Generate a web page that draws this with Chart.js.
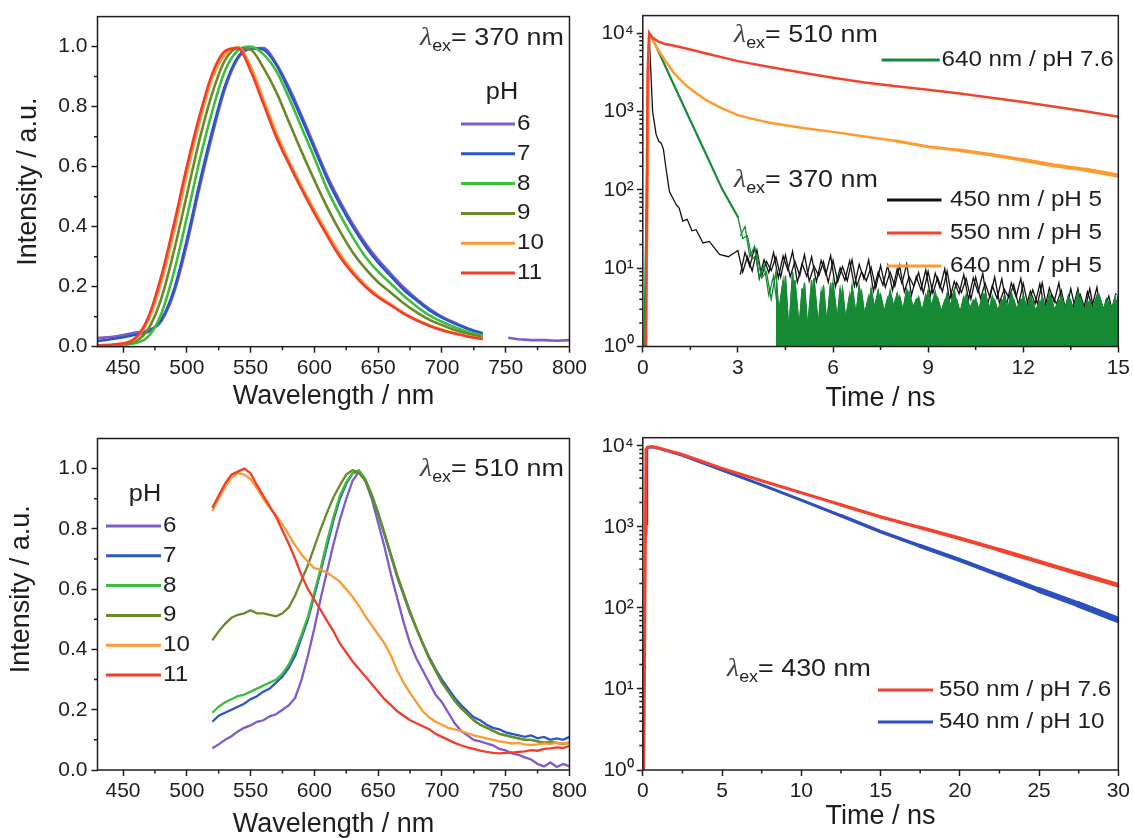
<!DOCTYPE html>
<html>
<head>
<meta charset="utf-8">
<script src="https://cdn.jsdelivr.net/npm/chart.js@4.4.0/dist/chart.umd.min.js"></script>
<style>
  html, body { margin: 0; padding: 0; background: #fff; width: 1133px; height: 838px; overflow: hidden; }
  .panel { position: absolute; }
</style>
</head>
<body>
<div class="panel" style="left:0;top:0;width:590px;height:419px"><canvas id="c-tl"></canvas></div>
<div class="panel" style="left:576px;top:0;width:557px;height:419px"><canvas id="c-tr"></canvas></div>
<div class="panel" style="left:0;top:419px;width:590px;height:440px"><canvas id="c-bl"></canvas></div>
<div class="panel" style="left:576px;top:419px;width:557px;height:440px"><canvas id="c-br"></canvas></div>
<script>
// ===== ticks =====
const wlTicks = [450, 500, 550, 600, 650, 700, 750, 800];
const intTicks = [0, 0.2, 0.4, 0.6, 0.8, 1.0];
const intLabels = ['0.0', '0.2', '0.4', '0.6', '0.8', '1.0'];
const t15Ticks = [0, 3, 6, 9, 12, 15];
const t30Ticks = [0, 5, 10, 15, 20, 25, 30];
const logTicks = [1, 10, 100, 1000, 10000];
const logLabels = ['10\u2070', '10\u00B9', '10\u00B2', '10\u00B3', '10\u2074'];
const phLabels = ['6', '7', '8', '9', '10', '11'];

// ===== top left: emission, λex 370 nm =====
const wlTop = [430,445,460,470,480,490,500,510,520,530,540,550,560,570,580,590,600,610,620,630,640,650,660,670,680,690,700,710,720,732];
const top6  = [0.028,0.035,0.047,0.055,0.085,0.18,0.34,0.53,0.705,0.86,0.96,0.993,0.995,0.945,0.865,0.77,0.67,0.57,0.485,0.41,0.345,0.29,0.243,0.198,0.16,0.127,0.10,0.08,0.062,0.045];
const top7  = [0.018,0.028,0.04,0.05,0.09,0.19,0.355,0.545,0.72,0.87,0.965,0.995,0.99,0.94,0.855,0.76,0.66,0.56,0.475,0.40,0.335,0.28,0.235,0.19,0.155,0.122,0.097,0.077,0.06,0.043];
const top8  = [0.005,0.006,0.012,0.035,0.11,0.25,0.43,0.62,0.785,0.92,0.987,1.0,0.975,0.92,0.83,0.73,0.63,0.525,0.44,0.365,0.30,0.25,0.21,0.17,0.135,0.105,0.083,0.065,0.05,0.037];
const top9  = [0.003,0.006,0.018,0.06,0.16,0.32,0.505,0.69,0.845,0.955,0.995,0.99,0.93,0.85,0.75,0.65,0.555,0.465,0.385,0.315,0.26,0.215,0.18,0.145,0.115,0.09,0.072,0.056,0.044,0.032];
const top10 = [0.004,0.008,0.027,0.09,0.215,0.385,0.575,0.75,0.895,0.975,0.998,0.935,0.825,0.715,0.62,0.535,0.455,0.38,0.31,0.253,0.206,0.17,0.141,0.113,0.09,0.072,0.057,0.045,0.035,0.026];
const top11 = [0.004,0.008,0.03,0.10,0.235,0.41,0.60,0.77,0.91,0.985,0.995,0.92,0.81,0.70,0.61,0.525,0.445,0.37,0.30,0.245,0.20,0.165,0.138,0.11,0.088,0.07,0.055,0.044,0.034,0.025];
const wlTopTail = [752, 760, 770, 780, 790, 800];
const top6Tail = [0.03, 0.025, 0.022, 0.022, 0.02, 0.022];

// ===== bottom left: emission, λex 510 nm =====
const wlBot = [520,525,530,535,540,545,550,555,560,565,570,575,580,585,590,595,600,605,610,615,620,625,630,635,640,645,650,655,660,665,670,675,680,685,690,695,700,705,710,715,720,725,730,735,740,745,750,755,760,765,770,775,780,785,790,795,800];
const bot6  = [0.072,0.085,0.10,0.112,0.128,0.14,0.148,0.16,0.165,0.178,0.185,0.20,0.215,0.24,0.30,0.38,0.47,0.57,0.66,0.75,0.83,0.90,0.96,0.99,0.96,0.90,0.82,0.74,0.65,0.57,0.49,0.42,0.37,0.33,0.29,0.25,0.225,0.19,0.155,0.13,0.115,0.10,0.095,0.088,0.082,0.07,0.065,0.055,0.05,0.042,0.035,0.02,0.012,0.025,0.01,0.02,0.012];
const bot7  = [0.16,0.18,0.19,0.20,0.21,0.22,0.235,0.245,0.26,0.27,0.29,0.31,0.34,0.38,0.44,0.50,0.58,0.66,0.745,0.83,0.90,0.95,0.985,0.99,0.96,0.91,0.85,0.78,0.71,0.64,0.58,0.52,0.47,0.42,0.375,0.335,0.30,0.27,0.24,0.215,0.195,0.175,0.165,0.15,0.14,0.135,0.125,0.12,0.115,0.11,0.115,0.105,0.11,0.10,0.105,0.10,0.11];
const bot8  = [0.19,0.21,0.225,0.235,0.245,0.25,0.26,0.27,0.28,0.29,0.30,0.32,0.35,0.395,0.45,0.51,0.59,0.67,0.76,0.84,0.91,0.955,0.985,0.995,0.965,0.915,0.855,0.785,0.715,0.645,0.585,0.525,0.47,0.42,0.37,0.33,0.29,0.26,0.23,0.205,0.185,0.165,0.15,0.14,0.13,0.12,0.115,0.11,0.105,0.10,0.10,0.095,0.09,0.095,0.09,0.088,0.09];
const bot9  = [0.43,0.46,0.485,0.505,0.515,0.52,0.53,0.52,0.52,0.515,0.51,0.52,0.54,0.58,0.63,0.68,0.74,0.80,0.855,0.905,0.945,0.98,0.995,0.985,0.96,0.91,0.85,0.785,0.715,0.645,0.585,0.525,0.47,0.42,0.37,0.33,0.29,0.26,0.23,0.205,0.185,0.165,0.15,0.14,0.13,0.12,0.115,0.11,0.105,0.10,0.10,0.095,0.092,0.09,0.09,0.088,0.09];
const bot10 = [0.86,0.90,0.94,0.97,0.985,0.98,0.965,0.935,0.90,0.87,0.845,0.815,0.78,0.745,0.715,0.69,0.67,0.665,0.655,0.64,0.625,0.60,0.575,0.545,0.51,0.48,0.45,0.42,0.38,0.33,0.29,0.255,0.225,0.195,0.175,0.16,0.15,0.14,0.135,0.13,0.122,0.115,0.11,0.105,0.10,0.095,0.092,0.088,0.09,0.085,0.083,0.085,0.088,0.086,0.09,0.088,0.092];
const bot11 = [0.87,0.91,0.95,0.98,0.99,1.0,0.985,0.945,0.91,0.875,0.84,0.795,0.75,0.70,0.645,0.60,0.565,0.53,0.495,0.46,0.42,0.39,0.36,0.335,0.31,0.285,0.26,0.235,0.215,0.195,0.18,0.165,0.155,0.145,0.135,0.12,0.11,0.10,0.09,0.082,0.075,0.07,0.064,0.06,0.057,0.055,0.057,0.058,0.06,0.062,0.066,0.064,0.07,0.072,0.075,0.073,0.08];

// ===== top right: decays =====
const trTimeRed = [0.1,0.15,0.2,0.3,0.5,0.7,1,1.5,2,3,4,5,6,7,8,9,10,11,12,13,14,15];
const trRed     = [1,3000,10000,8800,7800,7300,6900,6200,5500,4400,3700,3150,2700,2350,2100,1900,1700,1500,1320,1150,1000,860];
const trTimeOrange = [0.1,0.2,0.3,0.4,0.55,0.7,0.85,1,1.2,1.4,1.7,2,2.5,3,3.5,4,5,6,7,8,9,10,11,12,13,14,15];
const trOrange     = [1,10000,8500,7000,5600,4500,3700,3050,2500,2100,1700,1400,1100,900,800,720,620,550,480,420,355,320,280,240,205,180,152];
const trTimeGreen = [0.05,0.2,0.25,0.5,1,1.5,2,2.5];
const trGreen     = [1,10000,9500,5800,2100,770,283,103];
const trTimeBlack = [0.1,0.15,0.2,0.25,0.31,0.42,0.5,0.58,0.65,0.73,0.84,0.95,1.05,1.15,1.26,1.4,1.55,1.68,1.9,2.1,2.42,2.7];
const trBlack     = [1,800,10000,3500,1000,510,420,395,330,190,95,78,65,58,40,42,30,31,21,22,15,14];
// noise tail, read on two interleaved time grids
const trTimeNoiseA = [3,3.15,3.3,3.45,3.6,3.75,3.9,4.05,4.2,4.35,4.5,4.65,4.8,4.95,5.1,5.25,5.4,5.55,5.7,5.85,6,6.15,6.3,6.45,6.6,6.75,6.9,7.05,7.2,7.35,7.5,7.65,7.8,7.95,8.1,8.25,8.4,8.55,8.7,8.85,9,9.15,9.3,9.45,9.6,9.75,9.9,10.05,10.2,10.35,10.5,10.65,10.8,10.95,11.1,11.25,11.4,11.55,11.7,11.85,12,12.15,12.3,12.45,12.6,12.75,12.9,13.05,13.2,13.35,13.5,13.65,13.8,13.95,14.1,14.25,14.4,14.55,14.7,14.85,15];
const trBlackNoiseA = [16.8,8.9,14,9.2,17.1,7.9,12.2,9.3,14,7.7,14.7,7.8,12.2,8.0,14.9,6.8,10.6,8.0,12.1,6.6,12.6,6.7,10.5,6.9,12.8,5.9,9.0,6.9,10.3,5.6,10.8,5.7,8.9,5.9,10.8,5.0,7.8,5.9,8.8,4.8,9.1,4.8,7.6,5.0,9.2,4.2,6.5,4.9,7.4,4.0,7.7,4.1,6.4,4.2,7.7,3.6,5.4,4.2,6.2,3.4,6.4,3.4,5.3,3.5,6.5,2.9,4.6,3.5,5.2,2.8,5.5,2.9,4.6,3.0,5.5,2.5,3.9,3.0,4.4,2.4,4.6];
const trGreenNoiseA = [45,24,26,13,15,7.5,9,4,9,1.2,8,0.8,7,1.5,6.5,0.9,7.5,1.6,6,1.2,6.5,2.0,5.5,1.4,6,2.2,5,1.8,5.5,2.6,4.6,2.4,5.2,2.8,4.4,2.5,5.0,2.9,4.3,2.4,5.2,2.8,4.2,2.5,4.8,2.9,4.0,2.4,4.6,2.8,4.1,2.5,4.8,2.9,3.9,2.4,4.4,2.8,4.0,2.5,4.5,2.8,3.8,2.4,4.3,2.7,3.9,2.4,4.5,2.8,3.8,2.3,4.2,2.7,3.9,2.4,4.5,2.8,3.8,2.5,4.2];
const trTimeNoiseB = [3.075,3.225,3.375,3.525,3.675,3.825,3.975,4.125,4.275,4.425,4.575,4.725,4.875,5.025,5.175,5.325,5.475,5.625,5.775,5.925,6.075,6.225,6.375,6.525,6.675,6.825,6.975,7.125,7.275,7.425,7.575,7.725,7.875,8.025,8.175,8.325,8.475,8.625,8.775,8.925,9.075,9.225,9.375,9.525,9.675,9.825,9.975,10.125,10.275,10.425,10.575,10.725,10.875,11.025,11.175,11.325,11.475,11.625,11.775,11.925,12.075,12.225,12.375,12.525,12.675,12.825,12.975,13.125,13.275,13.425,13.575,13.725,13.875,14.025,14.175,14.325,14.475,14.625,14.775,14.925];
const trBlackNoiseB = [8.3,15.9,10.5,18.4,7.4,12.8,8.8,15.8,7.5,14.3,9.4,16.4,6.6,11.5,7.9,14.0,6.7,12.6,8.3,14.5,5.8,10.1,7.0,12.4,5.9,11.2,7.3,12.8,5.1,8.9,6.1,10.9,5.2,9.8,6.4,11.3,4.5,7.8,5.3,9.5,4.5,8.6,5.6,9.8,3.9,6.8,4.7,8.3,4.0,7.5,4.9,8.6,3.4,6.0,4.1,7.3,3.4,6.5,4.3,7.4,3.0,5.1,3.5,6.3,3.0,5.6,3.7,6.5,2.6,4.5,3.1,5.5,2.6,5.0,3.3,5.7,2.3,4.0,2.7,4.8];
const trGreenNoiseB = [26,34,14,19,7.5,11,4.5,8,2.5,7,1.0,9,0.9,5.5,1.3,7,1.0,5,1.5,6.5,1.3,5.5,2.0,4.6,1.6,6,2.4,4.4,2.7,5.2,2.4,4.2,2.9,4.8,2.5,5.4,2.8,4.0,2.4,4.6,2.9,5.0,2.5,3.9,2.9,5.2,2.4,4.3,2.8,3.9,2.6,4.8,2.4,4.4,2.8,3.9,2.5,4.9,2.9,4.0,2.4,4.5,2.8,3.8,2.5,4.8,2.9,3.9,2.4,4.4,2.8,4.9,2.5,3.8,2.9,4.5,2.4,4.0,2.8,4.7];

// ===== bottom right: decays, λex 430 nm =====
const brTimeRed  = [0.05,0.08,0.12,0.2,0.3,0.6,0.9,1.5,2.5,5,7.5,10,12.5,15,17.5,20,22.5,25,27.5,30];
const brRed      = [1,3,3,9000,9600,9700,9500,8800,7800,5260,3700,2630,1870,1330,980,720,520,370,265,190];
const brTimeBlue = [0.2,0.21,0.25,0.3,0.6,0.9,1.5,2.5,5,7.5,10,12.5,15,17.5,20,22.5,25,27.5,30];
const brBlue     = [800,1100,9000,9500,9700,9400,8700,7600,5000,3300,2140,1370,870,580,390,255,166,110,71];

// ===== style =====
const SANS = '"Liberation Sans", Arial, Helvetica, sans-serif';
const INK = '#1e1e1e';
const TICK_PX = 21;
const TITLE_PX = 27;
const PH_COLORS = ['#7E5BC9', '#2A56C6', '#3DBF3D', '#6A8A2A', '#FF9933', '#F23D2B'];

function pts(xs, ys) { return xs.map((x, i) => ({ x, y: ys[i] })); }

function series(label, xs, ys, color, width, order, extra) {
  return Object.assign({
    label, data: pts(xs, ys), borderColor: color, backgroundColor: color,
    borderWidth: width, pointRadius: 0, order, fill: false
  }, extra || {});
}

// thicker stroke where the measured trace gets noisy
function widen(steps) {
  return {
    borderCapStyle: 'round',
    borderWidth: ctx => { let w = steps[0][1]; steps.forEach(([t, bw]) => { if (ctx.p0.parsed.x >= t) w = bw; }); return w; }
  };
}

function xAxis(min, max, ticks, title, height, titlePad) {
  return {
    type: 'linear', min, max,
    afterBuildTicks: s => { s.ticks = ticks.map(v => ({ value: v })); },
    afterFit: s => { s.height = height; },
    ticks: { color: INK, font: { family: SANS, size: TICK_PX }, padding: 3, maxRotation: 0, autoSkip: false, callback: v => String(v) },
    grid: { drawOnChartArea: false, tickLength: 6, tickWidth: 1.5, tickColor: INK },
    border: { display: false },
    title: { display: true, text: title, color: INK, font: { family: SANS, size: TITLE_PX }, padding: { top: 0, bottom: titlePad } }
  };
}

function yLinear(width, title, titlePad) {
  return {
    type: 'linear', min: 0, max: 1.1,
    afterBuildTicks: s => { s.ticks = intTicks.map(v => ({ value: v })); },
    afterFit: s => { s.width = width; },
    ticks: { color: INK, font: { family: SANS, size: TICK_PX }, padding: 4, autoSkip: false, callback: (v, i) => intLabels[i] },
    grid: { drawOnChartArea: false, tickLength: 6, tickWidth: 1.5, tickColor: INK },
    border: { display: false },
    title: { display: true, text: title, color: INK, font: { family: SANS, size: TITLE_PX }, padding: { top: titlePad, bottom: 0 } }
  };
}

function yLog(max, width) {
  return {
    type: 'logarithmic', min: 1, max,
    afterBuildTicks: s => { s.ticks = logTicks.map(v => ({ value: v })); },
    afterFit: s => { s.width = width; },
    ticks: { color: INK, font: { family: SANS, size: TICK_PX }, padding: 3, autoSkip: false, callback: (v, i) => logLabels[i] },
    grid: { drawOnChartArea: false, tickLength: 6, tickWidth: 1.5, tickColor: INK },
    border: { display: false }
  };
}

function minorsBetween(major, step) {
  return major.map(v => v + step);
}

function logMinors(max) {
  const out = [];
  logTicks.forEach(d => { for (let m = 2; m <= 9; m++) if (m * d <= max) out.push(m * d); });
  return out;
}

function drawLambda(ctx, x, y, rest) {
  ctx.save();
  ctx.translate(x, y);
  ctx.scale(1.12, 1);
  ctx.textBaseline = 'alphabetic';
  ctx.textAlign = 'left';
  ctx.fillStyle = '#444';
  ctx.font = 'italic 25px "Liberation Serif", "DejaVu Serif", serif';
  ctx.fillText('\u03BB', 0, 0);
  let w = ctx.measureText('\u03BB').width;
  ctx.fillStyle = INK;
  ctx.font = '16px ' + SANS;
  ctx.fillText('ex', w, 6);
  w += ctx.measureText('ex').width;
  ctx.font = '24px ' + SANS;
  ctx.fillText(rest, w, 0);
  ctx.restore();
}

function drawText(ctx, text, x, y, size, align) {
  ctx.save();
  ctx.translate(x, y);
  ctx.scale(1.1, 1);
  ctx.fillStyle = INK;
  ctx.font = size + 'px ' + SANS;
  ctx.textAlign = align;
  ctx.textBaseline = 'middle';
  ctx.fillText(text, 0, 0);
  ctx.restore();
}

// frame, minor ticks, in-plot labels and keys
function decor(cfg) {
  return {
    id: 'decor',
    afterDraw(chart) {
      const { ctx, chartArea: a, scales } = chart;
      ctx.save();
      ctx.strokeStyle = INK;
      ctx.lineWidth = 1.5;
      ctx.beginPath();
      cfg.minorX.forEach(v => {
        const px = scales.x.getPixelForValue(v);
        if (px > a.left + 1 && px < a.right - 1) { ctx.moveTo(px, a.bottom); ctx.lineTo(px, a.bottom + 3.5); }
      });
      cfg.minorY.forEach(v => {
        const py = scales.y.getPixelForValue(v);
        if (py > a.top + 1 && py < a.bottom - 1) { ctx.moveTo(a.left, py); ctx.lineTo(a.left - 3.5, py); }
      });
      ctx.stroke();
      ctx.strokeRect(a.left, a.top, a.right - a.left, a.bottom - a.top);
      (cfg.lambdas || []).forEach(l => drawLambda(ctx, l.x, l.y, l.text));
      (cfg.heads || []).forEach(h => drawText(ctx, h.text, h.x, h.y, h.size, 'center'));
      (cfg.keys || []).forEach(k => {
        const ds = chart.data.datasets[k.ds];
        ctx.strokeStyle = ds.borderColor;
        ctx.lineWidth = 3;
        ctx.beginPath();
        ctx.moveTo(k.x1, k.y);
        ctx.lineTo(k.x2, k.y);
        ctx.stroke();
        drawText(ctx, ds.label, k.tx, k.y, k.size, 'left');
      });
      ctx.restore();
    }
  };
}

function baseOptions(pad, x, y) {
  return {
    responsive: true, maintainAspectRatio: false, animation: false, events: [],
    layout: { autoPadding: false, padding: { left: 0, top: pad.top, right: pad.right, bottom: 0 } },
    plugins: { legend: { display: false }, tooltip: { enabled: false } },
    scales: { x, y }
  };
}

// ----- top left -----
const topSets = [top6, top7, top8, top9, top10, top11];
const tlData = topSets.map((ys, i) => series(phLabels[i], wlTop, ys, PH_COLORS[i], 2.6, 6 - i, { cubicInterpolationMode: 'monotone' }));
tlData.push(series('', wlTopTail, top6Tail, PH_COLORS[0], 2.6, 6));
new Chart(document.getElementById('c-tl'), {
  type: 'line',
  data: { datasets: tlData },
  options: baseOptions({ top: 14.5, right: 16 },
    xAxis(430, 800, wlTicks, 'Wavelength / nm', 72.3, 5.8),
    yLinear(97.5, 'Intensity / a.u.', 12.5)),
  plugins: [decor({
    minorX: minorsBetween(wlTicks, 25),
    minorY: minorsBetween(intTicks, 0.1),
    lambdas: [{ x: 420, y: 45, text: '= 370 nm' }],
    heads: [{ text: 'pH', x: 502, y: 93, size: 23 }],
    keys: [0, 1, 2, 3, 4, 5].map(i => ({ ds: i, x1: 461, x2: 515, y: 124 + i * 29.8, tx: 517, size: 22 }))
  })]
});

// ----- top right -----
const trGreenColor = '#178A36';
const trData = [
  series('640 nm / pH 7.6', trTimeGreen.concat(trTimeNoiseA), trGreen.concat(trGreenNoiseA), trGreenColor, 2.2, 3, { segment: widen([[0, 2.2], [3, 1.3]]) }),
  series('450 nm / pH 5', trTimeBlack.concat(trTimeNoiseA), trBlack.concat(trBlackNoiseA), '#111111', 1.3, 6),
  series('550 nm / pH 5', trTimeRed, trRed, '#F2432F', 2.5, 1),
  series('640 nm / pH 5', trTimeOrange, trOrange, '#FF9A2F', 2.5, 2, { segment: widen([[0, 2.5], [8, 3], [10, 3.5], [12, 4], [14, 4.5]]) }),
  series('', trTimeNoiseA.slice(8), trGreenNoiseA.slice(8), trGreenColor, 1, 4, { fill: 'start' }),
  series('', trTimeNoiseB, trGreenNoiseB, trGreenColor, 1.3, 3),
  series('', trTimeNoiseB.slice(8), trGreenNoiseB.slice(8), trGreenColor, 1, 4, { fill: 'start' }),
  series('', trTimeNoiseB, trBlackNoiseB, '#111111', 1.3, 6)
];
new Chart(document.getElementById('c-tr'), {
  type: 'line',
  data: { datasets: trData },
  options: baseOptions({ top: 14.5, right: 14.3 },
    xAxis(0, 15, t15Ticks, 'Time / ns', 72.5, 4.3),
    yLog(16790, 66.8)),
  plugins: [decor({
    minorX: minorsBetween(t15Ticks, 1.5),
    minorY: logMinors(16790),
    lambdas: [{ x: 158, y: 42, text: '= 510 nm' }, { x: 158, y: 187, text: '= 370 nm' }],
    keys: [
      { ds: 0, x1: 305.6, x2: 363.8, y: 60, tx: 365.5, size: 22 },
      { ds: 1, x1: 311, x2: 365.5, y: 200, tx: 374, size: 22 },
      { ds: 2, x1: 311, x2: 365.5, y: 233, tx: 374, size: 22 },
      { ds: 3, x1: 311, x2: 365.5, y: 266, tx: 374, size: 22 }
    ]
  })]
});

// ----- bottom left -----
const botSets = [bot6, bot7, bot8, bot9, bot10, bot11];
const blData = botSets.map((ys, i) => series(phLabels[i], wlBot, ys, PH_COLORS[i], 2.3, 6 - i));
new Chart(document.getElementById('c-bl'), {
  type: 'line',
  data: { datasets: blData },
  options: baseOptions({ top: 19.5, right: 16 },
    xAxis(430, 800, wlTicks, 'Wavelength / nm', 89, 17.8),
    yLinear(97.5, '    Intensity / a.u.', 5.8)),
  plugins: [decor({
    minorX: minorsBetween(wlTicks, 25),
    minorY: minorsBetween(intTicks, 0.1),
    lambdas: [{ x: 420, y: 57, text: '= 510 nm' }],
    heads: [{ text: 'pH', x: 145, y: 76, size: 23 }],
    keys: [0, 1, 2, 3, 4, 5].map(i => ({ ds: i, x1: 106, x2: 161, y: 107 + i * 29.8, tx: 163, size: 22 }))
  })]
});

// ----- bottom right -----
const brData = [
  series('550 nm / pH 7.6', brTimeRed, brRed, '#F2432F', 3, 1, { segment: widen([[0, 3], [12.5, 3.4], [17.5, 3.8], [22.5, 4.3], [27.5, 4.8]]) }),
  series('540 nm / pH 10', brTimeBlue, brBlue, '#2E4FBF', 3, 2, { segment: widen([[0, 3], [12.5, 3.5], [17.5, 4.2], [22.5, 5], [25, 5.8], [27.5, 6.6]]) })
];
new Chart(document.getElementById('c-br'), {
  type: 'line',
  data: { datasets: brData },
  options: baseOptions({ top: 18.7, right: 14.3 },
    xAxis(0, 30, t30Ticks, 'Time / ns', 89, 25.8),
    yLog(12570, 66.8)),
  plugins: [decor({
    minorX: minorsBetween(t30Ticks, 2.5),
    minorY: logMinors(12570),
    lambdas: [{ x: 151, y: 257, text: '= 430 nm' }],
    keys: [
      { ds: 0, x1: 302, x2: 357, y: 271, tx: 363, size: 22 },
      { ds: 1, x1: 302, x2: 357, y: 303, tx: 363, size: 22 }
    ]
  })]
});
</script>
</body>
</html>
